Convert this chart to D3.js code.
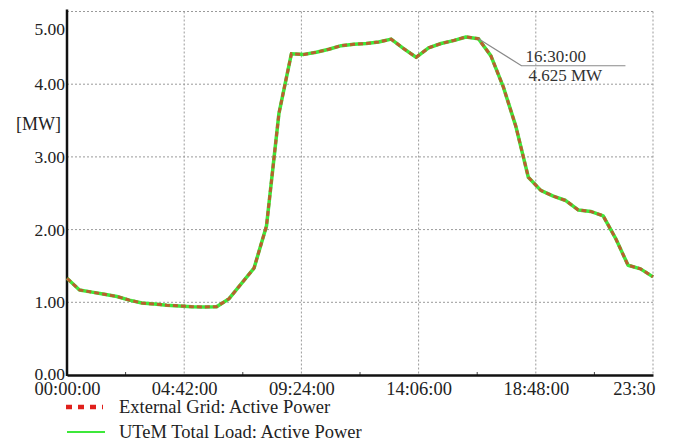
<!DOCTYPE html>
<html>
<head>
<meta charset="utf-8">
<script src="https://cdn.jsdelivr.net/npm/d3@7"></script>
<style>
  html, body { margin: 0; padding: 0; background: #fff; }
  svg { display: block; }
</style>
</head>
<body>
<svg id="chart" width="677" height="441"></svg>
<script>
// Half-hourly sample times (minutes after midnight)
const times = [
  0, 30, 60, 90, 120, 150, 180, 210, 240, 270, 300, 330,
  360, 390, 420, 450, 480, 510, 540, 570, 600, 630, 660, 690,
  720, 750, 780, 810, 840, 870, 900, 930, 960, 990, 1020, 1050,
  1080, 1110, 1140, 1170, 1200, 1230, 1260, 1290, 1320, 1350, 1380, 1410
];

// UTeM total load, active power [MW]
const utemLoad = [
  1.33, 1.17, 1.14, 1.11, 1.08, 1.03, 0.99, 0.975, 0.96, 0.95, 0.94, 0.935,
  0.94, 1.05, 1.26, 1.47, 2.05, 3.60, 4.42, 4.41, 4.44, 4.48, 4.53, 4.55,
  4.56, 4.58, 4.62, 4.49, 4.37, 4.50, 4.56, 4.60, 4.65, 4.625, 4.39, 3.96,
  3.42, 2.72, 2.54, 2.46, 2.40, 2.27, 2.25, 2.19, 1.88, 1.51, 1.46, 1.35
];

// External grid, active power [MW]
const externalGrid = [
  1.33, 1.17, 1.14, 1.11, 1.08, 1.03, 0.99, 0.975, 0.96, 0.95, 0.94, 0.935,
  0.94, 1.05, 1.26, 1.47, 2.05, 3.60, 4.42, 4.41, 4.44, 4.48, 4.53, 4.55,
  4.56, 4.58, 4.62, 4.49, 4.37, 4.50, 4.56, 4.60, 4.65, 4.625, 4.39, 3.96,
  3.42, 2.72, 2.54, 2.46, 2.40, 2.27, 2.25, 2.19, 1.88, 1.51, 1.46, 1.35
];

const xTickValues = [0, 282, 564, 846, 1128, 1410];
const xTickLabels = ["00:00:00", "04:42:00", "09:24:00", "14:06:00", "18:48:00", "23:30"];
const xMinorTicks = [141, 423, 705, 987, 1269];
const yTickValues = [0, 1, 2, 3, 4, 5];
const yTickLabels = ["0.00", "1.00", "2.00", "3.00", "4.00", "5.00"];

const legendLabels = ["External Grid: Active Power", "UTeM Total Load: Active Power"];
const markerTime = 990;
const markerLabel = ["16:30:00", "4.625 MW"];

const FONT = "'Liberation Serif', 'Times New Roman', 'DejaVu Serif', serif";

const svg = d3.select("#chart");
const x = d3.scaleLinear().domain([0, 1410]).range([67, 653]);
const y = d3.scaleLinear().domain([0, 5]).range([375, 11.5]);

// Dotted grid
const grid = svg.append("g").attr("stroke", "#9a9a9a").attr("stroke-width", 1)
  .attr("stroke-dasharray", "2,2");
grid.selectAll("line.v").data(xTickValues.slice(1)).join("line")
  .attr("x1", d => x(d)).attr("x2", d => x(d))
  .attr("y1", y(5)).attr("y2", y(0));
grid.selectAll("line.h").data(yTickValues.slice(1)).join("line")
  .attr("x1", x(0)).attr("x2", x(1410))
  .attr("y1", d => y(d)).attr("y2", d => y(d));

// Minor ticks on the time axis
svg.append("g").selectAll("line").data(xMinorTicks).join("line")
  .attr("x1", d => x(d)).attr("x2", d => x(d))
  .attr("y1", y(0) - 3).attr("y2", y(0))
  .attr("stroke", "#444").attr("stroke-width", 1);

// Axes
const xAxis = svg.append("g").attr("transform", `translate(0,${y(0)})`)
  .call(d3.axisBottom(x).tickValues(xTickValues).tickSize(0).tickPadding(6)
    .tickFormat((d, i) => xTickLabels[i]))
  .attr("font-family", FONT);
xAxis.select(".domain").attr("stroke", "#111").attr("stroke-width", 2.5);
xAxis.selectAll("text").style("font-family", FONT).style("font-size", "18.5px")
  .attr("fill", "#222").attr("dy", "0.74em");
xAxis.selectAll(".tick").filter(d => d === 1410).select("text")
  .attr("text-anchor", "end").attr("dx", "2");

const yAxis = svg.append("g").attr("transform", `translate(${x(0)},0)`)
  .call(d3.axisLeft(y).tickValues(yTickValues).tickSize(0).tickPadding(2)
    .tickFormat((d, i) => yTickLabels[i]))
  .attr("font-family", FONT);
yAxis.select(".domain").attr("stroke", "#111").attr("stroke-width", 2.5)
  .attr("d", `M0,${y(5) - 2}V${y(0) + 1}`);
yAxis.selectAll("text").style("font-family", FONT).style("font-size", "17.5px")
  .attr("fill", "#222");
yAxis.selectAll(".tick").filter(d => d === 0).select("text").attr("dy", "0.24em");
yAxis.selectAll(".tick").filter(d => d === 5).select("text").attr("dy", "1.3em");

svg.append("text").attr("x", 61).attr("y", 130).attr("text-anchor", "end")
  .style("font-family", FONT).style("font-size", "18px").attr("fill", "#222")
  .text("[MW]");

// Series lines
const line = d3.line().x((d, i) => x(times[i])).y(d => y(d));
svg.append("path").datum(utemLoad).attr("d", line)
  .attr("fill", "none").attr("stroke", "#3ee83a").attr("stroke-width", 3.5)
  .attr("stroke-linejoin", "round");
svg.append("path").datum(externalGrid).attr("d", line)
  .attr("fill", "none").attr("stroke", "#b8602e").attr("stroke-width", 3)
  .attr("stroke-dasharray", "5,3");

// Value marker
const mi = times.indexOf(markerTime);
const mx = x(markerTime), my = y(externalGrid[mi]);
svg.append("path")
  .attr("d", `M${mx},${my}L${mx + 43},${my + 27}H${mx + 147}`)
  .attr("fill", "none").attr("stroke", "#8a8a8a").attr("stroke-width", 1.2);
svg.append("text").attr("x", mx + 47).attr("y", my + 23.5)
  .style("font-family", FONT).style("font-size", "17px").attr("fill", "#333")
  .text(markerLabel[0]);
svg.append("text").attr("x", mx + 50).attr("y", my + 42)
  .style("font-family", FONT).style("font-size", "17px").attr("fill", "#333")
  .text(markerLabel[1]);

// Legend
const lg = svg.append("g");
lg.append("line").attr("x1", 66).attr("x2", 103).attr("y1", 407).attr("y2", 407)
  .attr("stroke", "#e0201c").attr("stroke-width", 4.5).attr("stroke-dasharray", "6,6");
lg.append("line").attr("x1", 67).attr("x2", 105).attr("y1", 432).attr("y2", 432)
  .attr("stroke", "#3ee83a").attr("stroke-width", 2);
lg.selectAll("text").data(legendLabels).join("text")
  .attr("x", 119).attr("y", (d, i) => 413 + i * 25)
  .style("font-family", FONT).style("font-size", "18.5px").attr("fill", "#222")
  .text(d => d);
</script>
</body>
</html>
